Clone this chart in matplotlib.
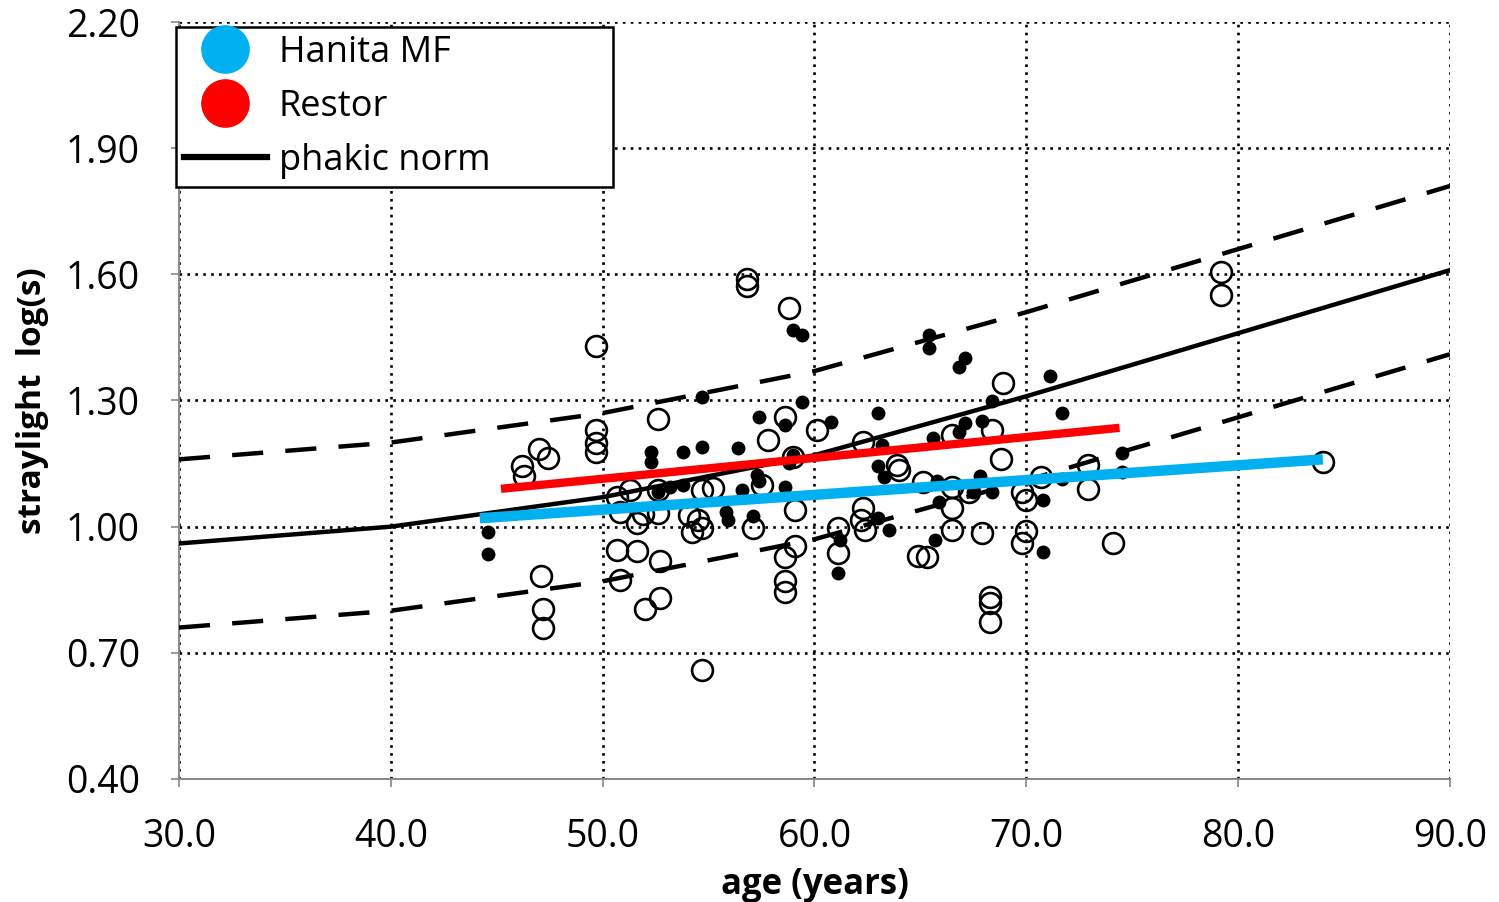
import numpy as np
import matplotlib.pyplot as plt
from matplotlib.lines import Line2D

# phakic norm and +/- limits, read at each decade
norm_age = [30, 40, 50, 60, 70, 80, 90]
norm_val = [0.96, 1.00, 1.07, 1.17, 1.31, 1.46, 1.61]
upper_val = [1.16, 1.20, 1.27, 1.37, 1.51, 1.66, 1.81]
lower_val = [0.76, 0.80, 0.87, 0.97, 1.11, 1.26, 1.41]

# regression lines (end points)
hanita_age = [44.2, 84.0]
hanita_val = [1.02, 1.16]
restor_age = [45.2, 74.4]
restor_val = [1.09, 1.235]

# open circles
open_age = [49.7, 47.0, 47.4, 46.2, 46.3, 47.1, 47.2, 47.2, 49.7, 49.7, 49.7,
            50.7, 51.3, 50.8, 51.6, 51.9, 52.6, 52.6, 50.7, 51.6, 52.7, 50.8,
            52.0, 52.7, 52.6, 54.7, 56.8, 56.8, 58.8, 58.6, 57.8, 60.1, 54.7,
            55.2, 57.5, 54.1, 54.5, 54.7, 54.2, 57.1, 59.1, 58.6, 59.1, 58.6,
            58.6, 61.1, 61.1, 59.0, 63.9, 64.0, 65.1, 66.5, 66.5, 67.9, 64.9,
            65.3, 62.3, 62.2, 62.4, 68.3, 68.3, 68.3, 68.9, 62.3, 66.5, 68.8,
            66.5, 68.4, 69.8, 70.0, 70.0, 69.8, 74.1, 72.9, 72.9, 70.7, 79.2,
            79.2, 84.0, 67.3]
open_val = [1.43, 1.185, 1.163, 1.144, 1.121, 0.883, 0.804, 0.759, 1.23, 1.20, 1.178,
            1.071, 1.087, 1.035, 1.009, 1.03, 1.033, 1.087, 0.945, 0.943, 0.918, 0.873,
            0.804, 0.831, 1.257, 0.659, 1.59, 1.572, 1.52, 1.26, 1.206, 1.23, 1.087,
            1.092, 1.10, 1.028, 1.016, 0.997, 0.987, 0.997, 1.04, 0.928, 0.954, 0.871,
            0.845, 0.997, 0.938, 1.166, 1.147, 1.135, 1.106, 1.045, 0.992, 0.985, 0.930,
            0.928, 1.045, 1.016, 0.992, 0.833, 0.819, 0.773, 1.342, 1.201, 1.218, 1.16,
            1.094, 1.23, 1.083, 1.063, 0.99, 0.961, 0.961, 1.147, 1.089, 1.118, 1.606,
            1.551, 1.154, 1.083]

# filled dots
fill_age = [44.6, 44.6, 52.3, 52.3, 53.8, 54.7, 56.4, 54.7, 52.6, 53.2, 55.8,
            55.9, 53.8, 59.4, 57.4, 58.6, 60.8, 59.0, 58.8, 57.3, 57.4, 56.6,
            58.6, 57.1, 61.1, 59.0, 59.4, 65.4, 65.4, 67.1, 66.8, 63.0, 71.1,
            68.4, 71.7, 63.2, 63.0, 63.3, 65.6, 66.8, 67.1, 67.9, 65.8, 65.9,
            67.8, 68.4, 67.5, 65.7, 63.0, 63.5, 61.2, 70.8, 70.8, 71.7, 74.5, 74.5]
fill_val = [0.987, 0.935, 1.178, 1.154, 1.178, 1.19, 1.187, 1.308, 1.083, 1.094, 1.035,
            1.016, 1.099, 1.297, 1.26, 1.242, 1.249, 1.171, 1.151, 1.123, 1.109, 1.087,
            1.094, 1.026, 0.89, 1.468, 1.455, 1.455, 1.425, 1.401, 1.379, 1.271, 1.358,
            1.299, 1.271, 1.194, 1.144, 1.118, 1.211, 1.225, 1.247, 1.251, 1.109, 1.059,
            1.121, 1.083, 1.083, 0.968, 1.021, 0.992, 0.968, 1.063, 0.94, 1.113, 1.175, 1.13]

xticks = [30, 40, 50, 60, 70, 80, 90]
yticks = [0.40, 0.70, 1.00, 1.30, 1.60, 1.90, 2.20]
labels = ['Hanita MF', 'Restor', 'phakic norm']

plt.rcParams['font.family'] = ['Open Sans', 'DejaVu Sans']

fig = plt.figure(figsize=(14.99, 9.02), dpi=100)
ax = fig.add_axes([0.1194, 0.1364, 0.8479, 0.8392])

ax.plot(open_age, open_val, 'o', ms=15, mfc='none', mec='black', mew=1.9, zorder=3)
ax.plot(fill_age, fill_val, 'o', ms=10, mfc='black', mec='black', mew=0, zorder=3)

ax.plot(norm_age, norm_val, color='black', lw=3.2, zorder=4)
ax.plot(norm_age, upper_val, color='black', lw=3.2, dashes=(7, 5), zorder=4)
ax.plot(norm_age, lower_val, color='black', lw=3.2, dashes=(7, 5), zorder=4)

ax.plot(restor_age, restor_val, color='#ff0000', lw=6, solid_capstyle='butt', zorder=5)
ax.plot(hanita_age, hanita_val, color='#00b0f0', lw=7.5, solid_capstyle='butt', zorder=5)

ax.set_xlim(30, 90)
ax.set_ylim(0.40, 2.20)
ax.set_xticks(xticks)
ax.set_yticks(yticks)
ax.set_xticklabels(['%.1f' % t for t in xticks])
ax.set_yticklabels(['%.2f' % t for t in yticks])
ax.tick_params(labelsize=27, length=6, width=1.2, color='#888888', pad=22)
ax.grid(True, color='black', linestyle=(0, (1, 2.0)), lw=1.9)
for s in ['top', 'right']:
    ax.spines[s].set_visible(False)
for s in ['left', 'bottom']:
    ax.spines[s].set_color('#888888')
    ax.spines[s].set_linewidth(1.4)

ax.set_xlabel('age (years)', fontsize=25, fontweight='bold', labelpad=8)
ax.set_ylabel('straylight  log(s)', fontsize=24, fontweight='bold', labelpad=12)

handles = [Line2D([], [], marker='o', ls='none', ms=34, color='#00b0f0'),
           Line2D([], [], marker='o', ls='none', ms=34, color='#ff0000'),
           Line2D([], [], color='black', lw=4.5)]
leg = ax.legend(handles, labels, loc='upper left', mode='expand',
                bbox_to_anchor=(0.1174, 0.7694, 0.2915, 0.2006),
                bbox_transform=fig.transFigure, borderaxespad=0,
                fontsize=26, fancybox=False, framealpha=1, edgecolor='black',
                handlelength=2.3, handletextpad=0.33, labelspacing=0.5,
                borderpad=0.22)
leg.get_frame().set_linewidth(1.8)
leg.set_zorder(10)

fig.savefig('out.png', dpi=100)
